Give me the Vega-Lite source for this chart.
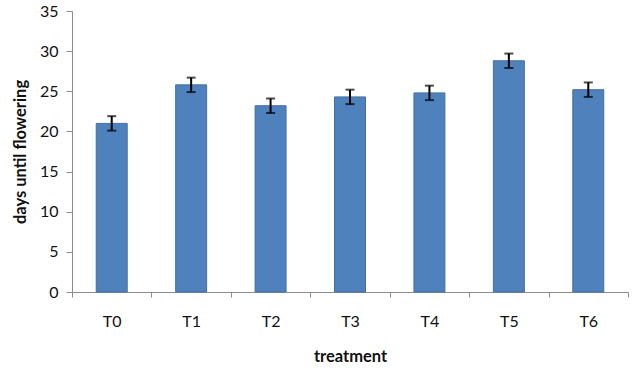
{
  "$schema": "https://vega.github.io/schema/vega-lite/v6.json",
  "width": 556,
  "height": 281,
  "autosize": {"type": "none"},
  "padding": {"left": 72, "top": 11, "right": 8, "bottom": 83},
  "background": "white",
  "config": {
    "view": {"stroke": null},
    "font": "Lato",
    "axis": {
      "domainColor": "#8c8c8c",
      "tickColor": "#8c8c8c",
      "grid": false,
      "labelFont": "Lato",
      "labelFontSize": 16,
      "labelColor": "#111111",
      "titleFont": "Lato",
      "titleFontSize": 16.5,
      "titleFontWeight": "bold",
      "titleColor": "#111111"
    }
  },
  "data": {
    "values": [
      {"treatment": "T0", "days": 21.0, "lo": 20.1, "hi": 21.9},
      {"treatment": "T1", "days": 25.8, "lo": 24.9, "hi": 26.7},
      {"treatment": "T2", "days": 23.2, "lo": 22.3, "hi": 24.1},
      {"treatment": "T3", "days": 24.3, "lo": 23.4, "hi": 25.2},
      {"treatment": "T4", "days": 24.8, "lo": 23.9, "hi": 25.7},
      {"treatment": "T5", "days": 28.8, "lo": 27.9, "hi": 29.7},
      {"treatment": "T6", "days": 25.2, "lo": 24.3, "hi": 26.1}
    ]
  },
  "encoding": {
    "x": {
      "field": "treatment",
      "type": "nominal",
      "sort": null,
      "scale": {"paddingInner": 0, "paddingOuter": 0},
      "axis": {
        "title": "treatment",
        "labelAngle": 0,
        "tickBand": "extent",
        "tickSize": 5,
        "labelPadding": 16,
        "titlePadding": 19
      }
    }
  },
  "layer": [
    {
      "mark": {"type": "bar", "width": {"band": 0.39}, "color": "#4F81BD", "stroke": "#41709F", "strokeWidth": 1},
      "encoding": {
        "y": {
          "field": "days",
          "type": "quantitative",
          "scale": {"domain": [0, 35], "nice": false},
          "axis": {
            "title": "days until flowering",
            "values": [0, 5, 10, 15, 20, 25, 30, 35],
            "tickSize": 6,
            "labelPadding": 8,
            "titlePadding": 11
          }
        }
      }
    },
    {
      "mark": {"type": "rule", "color": "black", "strokeWidth": 2},
      "encoding": {
        "y": {"field": "lo", "type": "quantitative"},
        "y2": {"field": "hi"}
      }
    },
    {
      "mark": {"type": "tick", "color": "black", "size": 9, "thickness": 2},
      "encoding": {"y": {"field": "lo", "type": "quantitative"}}
    },
    {
      "mark": {"type": "tick", "color": "black", "size": 9, "thickness": 2},
      "encoding": {"y": {"field": "hi", "type": "quantitative"}}
    }
  ]
}
